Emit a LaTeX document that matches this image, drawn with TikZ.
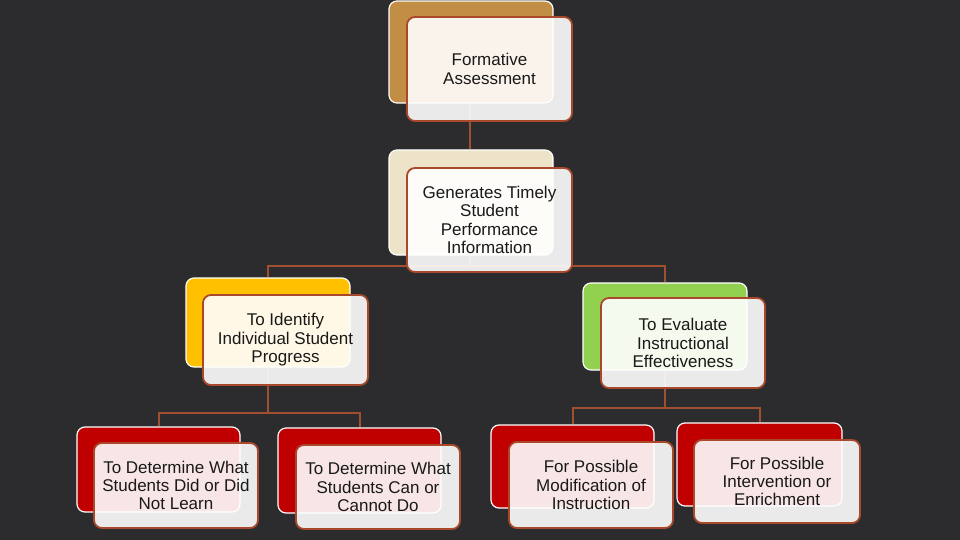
\documentclass[tikz,border=0pt]{standalone}
\usepackage{fontspec}
\setmainfont{Liberation Sans}
\pgfdeclarelayer{background}
\pgfsetlayers{background,main}
\begin{document}
\begin{tikzpicture}[x=1pt,y=-1pt,
  backbox/.style={draw=white, line width=1.2pt, rounded corners=8pt, inner sep=0pt},
  frontbox/.style={draw=edgecol, line width=1.8pt, rounded corners=8pt, fill=white, fill opacity=0.9, text opacity=1, inner sep=0pt, align=center, font=\fontsize{17}{18.4}\selectfont, text=black!90},
  conn/.style={draw=conncol, line width=2pt}]
\definecolor{bg}{HTML}{2C2C2E}
\definecolor{edgecol}{HTML}{A9482A}
\definecolor{conncol}{HTML}{A0502E}
\definecolor{tanc}{HTML}{C28D44}
\definecolor{beigec}{HTML}{EDE3C8}
\definecolor{yellowc}{HTML}{FFC000}
\definecolor{greenc}{HTML}{92D050}
\definecolor{redc}{HTML}{C00000}
\useasboundingbox (0,0) rectangle (960,540);
% back boxes
\node[backbox, fill=tanc, minimum width=164pt, minimum height=102pt] (b1) at (471,52) {};
\node[backbox, fill=beigec, minimum width=164pt, minimum height=105pt] (b2) at (471,202.5) {};
\node[backbox, fill=yellowc, minimum width=164pt, minimum height=89pt] (b3) at (268,322.5) {};
\node[backbox, fill=greenc, minimum width=164pt, minimum height=87pt] (b4) at (665,326.5) {};
\node[backbox, fill=redc, minimum width=163pt, minimum height=85pt] (b5) at (158.5,469.5) {};
\node[backbox, fill=redc, minimum width=163pt, minimum height=85pt] (b6) at (359.5,470.5) {};
\node[backbox, fill=redc, minimum width=163pt, minimum height=83pt] (b7) at (572.5,466.5) {};
\node[backbox, fill=redc, minimum width=165pt, minimum height=83pt] (b8) at (759.5,464.5) {};
% front boxes
\node[frontbox, minimum width=165pt, minimum height=104pt] (f1) at (489.5,69) {Formative\\Assessment};
\node[frontbox, minimum width=165pt, minimum height=104pt] (f2) at (489.5,220) {Generates Timely\\Student\\Performance\\Information};
\node[frontbox, minimum width=165pt, minimum height=90pt] (f3) at (285.5,340) {To Identify\\Individual Student\\Progress};
\node[frontbox, minimum width=164pt, minimum height=90pt] (f4) at (683,343) {To Evaluate\\Instructional\\Effectiveness};
\node[frontbox, minimum width=164pt, minimum height=85pt] (f5) at (176,485.5) {To Determine What\\Students Did or Did\\Not Learn};
\node[frontbox, minimum width=164pt, minimum height=84pt] (f6) at (378,487) {To Determine What\\Students Can or\\Cannot Do};
\node[frontbox, minimum width=164pt, minimum height=86pt] (f7) at (591,485) {For Possible\\Modification of\\Instruction};
\node[frontbox, minimum width=166pt, minimum height=83pt] (f8) at (777,481.5) {For Possible\\Intervention or\\Enrichment};
% connectors behind
\begin{pgfonlayer}{background}
\fill[bg] (0,0) rectangle (960,540);
\coordinate (j2) at (470,266);
\coordinate (j3) at (268,413);
\coordinate (j4) at (665,408);
\draw[conn] (b1.south -| j2) -- (b2.north -| j2);
\draw[conn] (b2.south -| j2) -- (j2) -| (b3.north);
\draw[conn] (j2) -| (b4.north);
\draw[conn] (b3.south) -- (j3) -| (b5.north);
\draw[conn] (j3) -| (b6.north);
\draw[conn] (b4.south) -- (j4) -| (b7.north);
\draw[conn] (j4) -| (b8.north);
\end{pgfonlayer}
\end{tikzpicture}
\end{document}
